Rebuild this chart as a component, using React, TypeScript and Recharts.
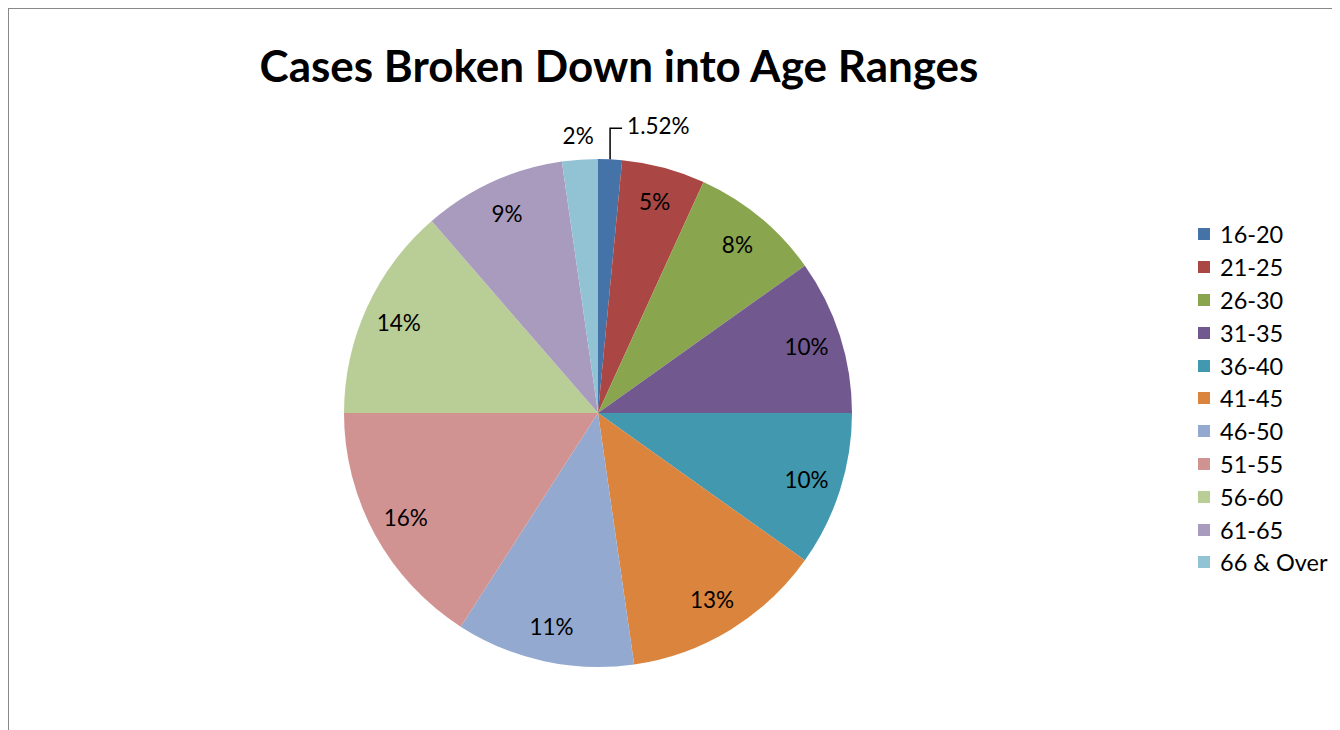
import React from 'react'
import { PieChart, Pie, Cell, Legend } from 'recharts'

// case counts per age range (132 total)
const ageRanges = ['16-20', '21-25', '26-30', '31-35', '36-40', '41-45', '46-50', '51-55', '56-60', '61-65', '66 & Over']
const cases = [2, 7, 11, 13, 13, 17, 15, 21, 18, 12, 3]
const colors = ['#4572A7', '#AA4643', '#89A54E', '#71588F', '#4198AF', '#DB843D', '#93A9CF', '#D19392', '#B9CD96', '#A99BBD', '#92C3D4']

const data = ageRanges.map((name, i) => ({ name, value: cases[i] }))

const FONT = 'Lato, "Open Sans", sans-serif'
const RADIAN = Math.PI / 180

const renderLabel = (props: any) => {
  const { cx, cy, midAngle, outerRadius, percent, index } = props
  const cos = Math.cos(-midAngle * RADIAN)
  const sin = Math.sin(-midAngle * RADIAN)
  if (percent < 0.02) {
    // tiny slice: label outside with an elbow leader line
    const x0 = cx + outerRadius * cos
    const y0 = cy + outerRadius * sin
    const y1 = y0 - 31
    return (
      <g key={`lbl-${index}`}>
        <polyline points={`${x0},${y0} ${x0},${y1} ${x0 + 12},${y1}`} fill='none' stroke='#000' strokeWidth={1.5} />
        <text x={x0 + 17} y={y1 - 3} fontSize={22.5} fontFamily={FONT} fill='#000' textAnchor='start' dominantBaseline='central'>
          {(percent * 100).toFixed(2)}%
        </text>
      </g>
    )
  }
  const r = percent < 0.03 ? outerRadius + 24 : outerRadius * 0.862
  const x = cx + r * cos
  const y = cy + r * sin
  return (
    <text key={`lbl-${index}`} x={x} y={y} fontSize={22.5} fontFamily={FONT} fill='#000' textAnchor='middle' dominantBaseline='central'>
      {Math.round(percent * 100)}%
    </text>
  )
}

const renderLegend = () => (
  <div style={{ fontFamily: FONT, fontSize: 23.5, color: '#000' }}>
    {ageRanges.map((name, i) => (
      <div key={name} style={{ display: 'flex', alignItems: 'center', height: 32.8 }}>
        <span style={{ display: 'inline-block', width: 12, height: 12, background: colors[i], marginRight: 10 }} />
        <span>{name}</span>
      </div>
    ))}
  </div>
)

export default function App() {
  return (
    <div
      style={{
        position: 'relative',
        marginLeft: -1,
        marginTop: -1,
        width: 1331,
        height: 721,
        borderTop: '2px solid #888',
        borderLeft: '2px solid #888',
        background: '#fff',
        overflow: 'hidden',
      }}
    >
      <div
        style={{
          position: 'absolute',
          left: 0,
          top: 30,
          width: 1220,
          textAlign: 'center',
          fontFamily: FONT,
          fontWeight: 700,
          fontSize: 44,
          color: '#000',
        }}
      >
        Cases Broken Down into Age Ranges
      </div>
      <PieChart width={1331} height={721} margin={{ top: 0, right: 0, bottom: 0, left: 0 }}>
        <Pie
          data={data}
          dataKey='value'
          nameKey='name'
          cx={589}
          cy={404}
          outerRadius={254}
          startAngle={90}
          endAngle={-270}
          stroke='none'
          label={renderLabel}
          labelLine={false}
          isAnimationActive={false}
        >
          {data.map((d, i) => (
            <Cell key={d.name} fill={colors[i]} />
          ))}
        </Pie>
        <Legend
          content={renderLegend}
          wrapperStyle={{ position: 'absolute', left: 1189, top: 209, width: 150 }}
        />
      </PieChart>
    </div>
  )
}
